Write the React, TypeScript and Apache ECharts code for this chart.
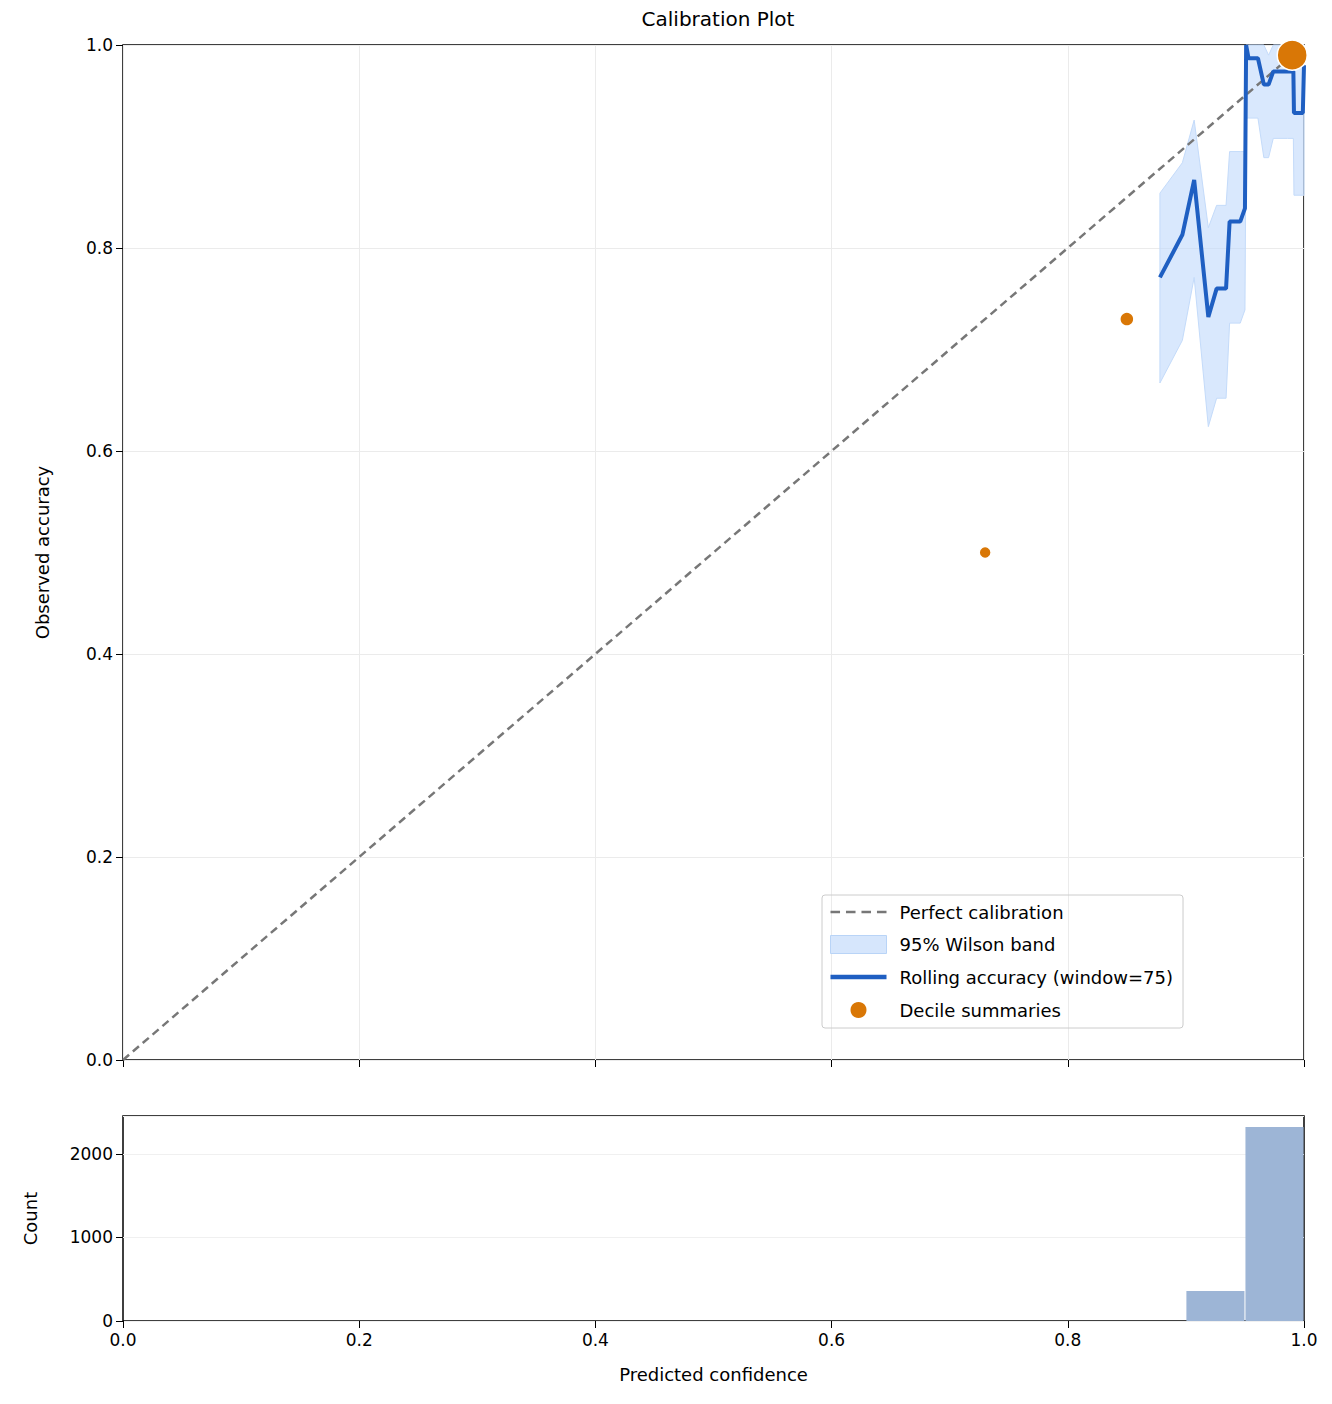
import React, { useEffect, useRef } from 'react';
import * as echarts from 'echarts';

const rollX = [0.878, 0.897, 0.907, 0.919, 0.926, 0.934, 0.937, 0.946, 0.95, 0.951, 0.953, 0.961, 0.966, 0.97, 0.974, 0.986, 0.991, 0.9915, 0.999, 1.0];
const rollY = [0.771, 0.813, 0.867, 0.732, 0.76, 0.76, 0.826, 0.826, 0.839, 1.0, 0.987, 0.987, 0.961, 0.961, 0.974, 0.974, 0.974, 0.933, 0.933, 0.98];
const bandLow = [0.667, 0.709, 0.771, 0.624, 0.652, 0.652, 0.726, 0.726, 0.739, 0.928, 0.928, 0.928, 0.889, 0.889, 0.908, 0.908, 0.908, 0.852, 0.852, 0.852];
const bandHigh = [0.854, 0.884, 0.926, 0.82, 0.842, 0.842, 0.895, 0.895, 0.895, 1.0, 1.0, 1.0, 1.0, 0.99, 1.0, 1.0, 1.0, 1.0, 1.0, 1.0];

const deciles = [
  [0.73, 0.5, 12],
  [0.85, 0.73, 14],
  [0.99, 0.99, 30],
];

const histBins = [[0.9, 0.95], [0.95, 1.0]];
const histCounts = [360, 2323];

const axisText = { color: '#000', fontSize: 17, fontFamily: 'DejaVu Sans' };

const App = () => {
  const ref = useRef(null);
  useEffect(() => {
    if (!ref.current) return;
    const chart = echarts.init(ref.current, null, { renderer: 'svg' });
    const f1 = (v: number) => v.toFixed(1);
    chart.setOption({
      animation: false,
      title: {
        text: 'Calibration Plot', left: 705, top: -4, textAlign: 'center',
        textStyle: { fontSize: 20, fontWeight: 'normal', fontFamily: 'DejaVu Sans', color: '#000' },
      },
      grid: [
        { left: 115, top: 37, width: 1181, height: 1015, show: true, borderColor: '#000', borderWidth: 1.5, backgroundColor: 'transparent' },
        { left: 115, top: 1108, width: 1181, height: 205, show: true, borderColor: '#000', borderWidth: 1.5, backgroundColor: 'transparent' },
      ],
      legend: {
        left: 814, top: 887, width: 470, orient: 'vertical', itemGap: 14,
        padding: [8, 10, 8, 8], borderColor: '#ccc', borderWidth: 1, borderRadius: 3,
        itemWidth: 56, itemHeight: 18,
        textStyle: { fontSize: 18, fontFamily: 'DejaVu Sans', color: '#000', padding: [0, 0, 0, 8] },
        data: [
          { name: 'Perfect calibration', icon: 'path://M0,7 L8,7 L8,9 L0,9 Z M13,7 L21,7 L21,9 L13,9 Z M26,7 L34,7 L34,9 L26,9 Z M39,7 L47,7 L47,9 L39,9 Z', itemStyle: { color: '#777' } },
          { name: '95% Wilson band', icon: 'rect', itemStyle: { color: '#d6e6fc', borderColor: '#b9d4f7', borderWidth: 1 } },
          { name: 'Rolling accuracy (window=75)', icon: 'path://M0,6 L52,6 L52,10 L0,10 Z', itemStyle: { color: '#1f5fc2' } },
          { name: 'Decile summaries', icon: 'circle', itemStyle: { color: '#d97706' } },
        ],
      },
      xAxis: [
        {
          type: 'value', gridIndex: 0, min: 0, max: 1, interval: 0.2,
          axisLine: { show: false }, axisLabel: { show: false },
          axisTick: { show: true, length: 7, lineStyle: { color: '#000' } },
          splitLine: { lineStyle: { color: '#ebebeb' } },
        },
        {
          type: 'value', gridIndex: 1, min: 0, max: 1, interval: 0.2,
          axisLine: { show: false }, axisLabel: { ...axisText, formatter: f1, margin: 10 },
          axisTick: { show: true, length: 7, lineStyle: { color: '#000' } },
          splitLine: { show: false },
          name: 'Predicted confidence', nameLocation: 'middle', nameGap: 44,
          nameTextStyle: { ...axisText, fontSize: 18 },
        },
      ],
      yAxis: [
        {
          type: 'value', gridIndex: 0, min: 0, max: 1, interval: 0.2,
          axisLine: { show: false }, axisLabel: { ...axisText, formatter: f1, margin: 10 },
          axisTick: { show: true, length: 7, lineStyle: { color: '#000' } },
          splitLine: { lineStyle: { color: '#ebebeb' } },
          name: 'Observed accuracy', nameLocation: 'middle', nameGap: 72,
          nameTextStyle: { ...axisText, fontSize: 18 },
        },
        {
          type: 'value', gridIndex: 1, min: 0, max: 2455, interval: 1000,
          axisLine: { show: false },
          axisLabel: { ...axisText, margin: 10, showMaxLabel: false, formatter: (v: number) => String(v) },
          axisTick: { show: true, length: 7, lineStyle: { color: '#000' } },
          splitLine: { lineStyle: { color: '#f0f0f0' } },
          name: 'Count', nameLocation: 'middle', nameGap: 84,
          nameTextStyle: { ...axisText, fontSize: 18 },
        },
      ],
      series: [
        {
          name: 'Perfect calibration', type: 'line', xAxisIndex: 0, yAxisIndex: 0,
          data: [[0, 0], [1, 1]], symbol: 'none',
          lineStyle: { color: '#777', width: 2.5, type: [8, 5] }, z: 3,
        },
        {
          name: '95% Wilson band', type: 'custom', xAxisIndex: 0, yAxisIndex: 0,
          itemStyle: { color: '#d6e6fc' },
          data: rollX.map((x, i) => [x, bandLow[i], bandHigh[i]]),
          renderItem: (params: any, api: any) => {
            if (params.dataIndex !== 0) return null;
            const up = rollX.map((x, i) => api.coord([x, bandHigh[i]]));
            const lo = rollX.map((x, i) => api.coord([x, bandLow[i]])).reverse();
            return {
              type: 'polygon',
              shape: { points: up.concat(lo) },
              style: { fill: 'rgba(191,217,252,0.6)', stroke: '#c4dbfa', lineWidth: 1 },
            };
          },
          z: 2,
        },
        {
          name: 'Rolling accuracy (window=75)', type: 'line', xAxisIndex: 0, yAxisIndex: 0,
          data: rollX.map((x, i) => [x, rollY[i]]), symbol: 'none',
          lineStyle: { color: '#1f5fc2', width: 4 }, itemStyle: { color: '#1f5fc2' }, z: 4,
        },
        {
          name: 'Decile summaries', type: 'scatter', xAxisIndex: 0, yAxisIndex: 0,
          data: deciles.map((d) => [d[0], d[1], d[2]]),
          symbolSize: (v: number[]) => v[2],
          itemStyle: { color: '#d97706', borderColor: '#fff', borderWidth: 1.5, opacity: 1 }, z: 5,
        },
        {
          name: 'hist', type: 'custom', xAxisIndex: 1, yAxisIndex: 1,
          data: histBins.map((b, i) => [b[0], b[1], histCounts[i]]),
          renderItem: (params: any, api: any) => {
            const p0 = api.coord([api.value(0), api.value(2)]);
            const p1 = api.coord([api.value(1), 0]);
            return {
              type: 'rect',
              shape: { x: p0[0] + 0.5, y: p0[1], width: p1[0] - p0[0] - 1, height: p1[1] - p0[1] },
              style: { fill: '#9db5d6' },
            };
          },
        },
      ],
    });
    return () => chart.dispose();
  }, []);
  return <div ref={ref} style={{ width: 1316, height: 1390 }} />;
};

export default App;
